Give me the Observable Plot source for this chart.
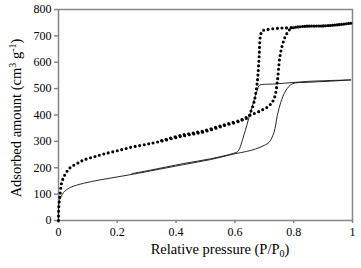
<!DOCTYPE html>
<html><head><meta charset="utf-8">
<script src="https://cdn.jsdelivr.net/npm/d3@7"></script>
<script src="https://cdn.jsdelivr.net/npm/@observablehq/plot@0.6"></script>
<style>body{margin:0;background:#fff} #chart{width:361px;height:268px} #chart svg, #chart text{font-family:'Liberation Serif', serif !important}</style>
</head><body><div id="chart"></div>
<script>
// Tick values
const xTicks = [0, 0.2, 0.4, 0.6, 0.8, 1];
const yTicks = [0, 100, 200, 300, 400, 500, 600, 700, 800];

// Dotted isotherm – adsorption branch
const dotAdsX = [0, 0.001, 0.006, 0.011, 0.023, 0.040, 0.063, 0.085, 0.119, 0.153, 0.199, 0.244, 0.290, 0.335, 0.426, 0.494, 0.562, 0.619, 0.648, 0.687, 0.716, 0.733, 0.744, 0.752, 0.761, 0.773, 0.790, 0.835, 0.903, 0.949, 0.994];
const dotAdsY = [0, 50, 106, 144, 176, 201, 216, 229, 241, 252, 264, 277, 287, 297, 321, 336, 359, 378, 397, 416, 435, 461, 524, 613, 663, 701, 727, 736, 738, 742, 748];
// Dotted isotherm – desorption branch
const dotDesX = [0.994, 0.949, 0.903, 0.835, 0.790, 0.750, 0.710, 0.693, 0.687, 0.682, 0.676, 0.665, 0.653, 0.645, 0.620, 0.560, 0.490, 0.420, 0.340];
const dotDesY = [748, 742, 738, 736, 731, 729, 724, 718, 701, 613, 524, 448, 410, 391, 381, 362, 339, 324, 300];

// Solid isotherm – adsorption branch
const solAdsX = [0, 0.002, 0.006, 0.017, 0.040, 0.085, 0.142, 0.199, 0.256, 0.313, 0.426, 0.517, 0.596, 0.640, 0.670, 0.700, 0.716, 0.733, 0.744, 0.756, 0.773, 0.795, 0.850, 0.920, 0.994];
const solAdsY = [0, 74, 84, 106, 125, 141, 154, 165, 176, 188, 212, 231, 252, 262, 271, 285, 296, 334, 397, 448, 492, 518, 524, 528, 533];
// Solid isotherm – desorption branch
const solDesX = [0.994, 0.858, 0.807, 0.739, 0.685, 0.682, 0.670, 0.653, 0.648, 0.631, 0.610, 0.596, 0.517, 0.426, 0.313, 0.250];
const solDesY = [533, 528, 524, 518, 514, 511, 473, 410, 391, 325, 262, 255, 234, 216, 191, 178];

const toRows = (xs, ys) => xs.map((x, i) => ({x, y: ys[i]}));
const dotAds = toRows(dotAdsX, dotAdsY), dotDes = toRows(dotDesX, dotDesY);
const solAds = toRows(solAdsX, solAdsY), solDes = toRows(solDesX, solDesY);

const FONT = "'Liberation Serif', serif";
const axisGray = "#868686";
const dotStyle = {x: "x", y: "y", curve: "catmull-rom", stroke: "#000", strokeWidth: 3.1, strokeLinecap: "round", strokeDasharray: "0 4.6"};
const solStyle = {x: "x", y: "y", curve: "catmull-rom", stroke: "#111", strokeWidth: 0.9};

const chart = Plot.plot({
  width: 361, height: 268,
  marginLeft: 58, marginRight: 9, marginTop: 9, marginBottom: 48,
  x: {domain: [0, 1]},
  y: {domain: [0, 800]},
  style: {fontFamily: FONT, fontSize: "12px", color: "#000", background: "#fff", overflow: "visible"},
  marks: [
    Plot.frame({stroke: axisGray, strokeWidth: 1.5}),
    Plot.axisX({ticks: xTicks, tickSize: 3, tickPadding: 4, stroke: axisGray, strokeWidth: 1.5, label: null, tickFormat: d => String(d), fontSize: 12}),
    Plot.axisY({ticks: yTicks, tickSize: 4, tickPadding: 3, stroke: axisGray, strokeWidth: 1.5, label: null, fontSize: 12}),
    Plot.line(solAds, solStyle),
    Plot.line(solDes, solStyle),
    Plot.line(dotAds, dotStyle),
    Plot.line(dotDes, dotStyle)
  ]
});
document.getElementById("chart").appendChild(chart);

const svg = d3.select(chart);
svg.attr("font-family", FONT);
svg.selectAll("g").attr("font-family", FONT);
const lab = svg.append("g").attr("font-family", FONT).attr("font-size", 14.5).attr("fill", "#000");
const xl = lab.append("text").attr("x", 220).attr("y", 253.5).attr("text-anchor", "middle");
xl.append("tspan").text("Relative pressure (P/P");
xl.append("tspan").attr("font-size", 10).attr("dy", 3).text("0");
xl.append("tspan").attr("dy", -3).text(")");
const yl = lab.append("text").attr("transform", "translate(20.7,118) rotate(-90)").attr("text-anchor", "middle");
yl.append("tspan").text("Adsorbed amount (cm");
yl.append("tspan").attr("font-size", 10).attr("dy", -5).text("3");
yl.append("tspan").attr("dy", 5).text(" g");
yl.append("tspan").attr("font-size", 10).attr("dy", -5).text("-1");
yl.append("tspan").attr("dy", 5).text(")");
</script></body></html>
